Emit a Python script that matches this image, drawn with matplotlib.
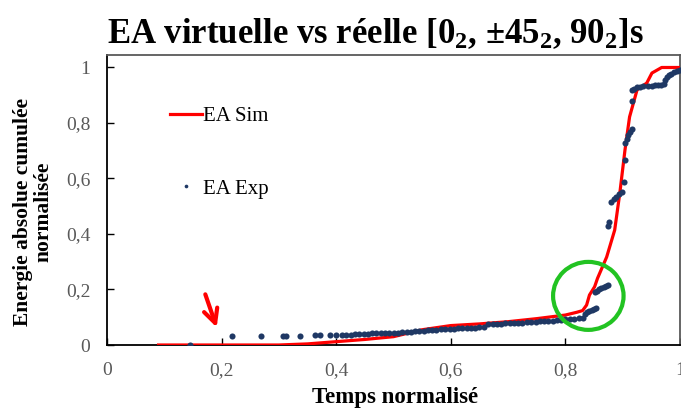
#!/usr/bin/env python3
"""
EA virtuelle vs reelle, stratifie [0_2, +-45_2, 90_2]s
"""

import matplotlib
matplotlib.use('Agg')
import matplotlib.pyplot as plt
from matplotlib.patches import Ellipse
from matplotlib.ticker import FuncFormatter

plt.rcParams['font.family'] = ['Liberation Serif', 'DejaVu Serif']
plt.rcParams['mathtext.fontset'] = 'custom'
plt.rcParams['mathtext.rm'] = 'Liberation Serif:bold'
plt.rcParams['mathtext.it'] = 'Liberation Serif:bold'
plt.rcParams['mathtext.bf'] = 'Liberation Serif:bold'

# courbe simulee (EA Sim)
sim_t = [0.09, 0.30, 0.35, 0.40, 0.45, 0.50, 0.55, 0.60, 0.65, 0.70, 0.75,
         0.80, 0.82, 0.83, 0.837, 0.842, 0.851, 0.856, 0.872, 0.886, 0.895,
         0.904, 0.912, 0.925, 0.942, 0.951, 0.968, 1.0]
sim_ea = [0.0, 0.0, 0.004, 0.012, 0.02, 0.03, 0.055, 0.07, 0.076, 0.084, 0.095,
          0.108, 0.118, 0.124, 0.144, 0.18, 0.21, 0.24, 0.317, 0.414, 0.548,
          0.703, 0.822, 0.919, 0.944, 0.98, 1.0, 1.0]

# points experimentaux (EA Exp)
exp_t = [0.144, 0.218, 0.268, 0.307, 0.312, 0.337, 0.363, 0.372, 0.390, 0.400,
         0.410, 0.417, 0.425, 0.433,
         0.440, 0.448, 0.455, 0.463, 0.470, 0.478, 0.485, 0.493, 0.500, 0.508,
         0.515, 0.523, 0.530, 0.538, 0.545, 0.553, 0.560, 0.568, 0.575, 0.583,
         0.590, 0.598, 0.605, 0.613, 0.620, 0.628, 0.635, 0.643, 0.650, 0.658,
         0.665, 0.673, 0.680, 0.688, 0.695, 0.703, 0.710, 0.718, 0.725, 0.733,
         0.740, 0.748, 0.755, 0.763, 0.770, 0.778, 0.785, 0.793, 0.800, 0.808,
         0.815, 0.823, 0.830,
         0.834, 0.838, 0.842, 0.846, 0.850, 0.854,
         0.851, 0.855, 0.859, 0.863, 0.867, 0.871, 0.875,
         0.875, 0.876, 0.880, 0.884, 0.888, 0.893, 0.898, 0.902, 0.904, 0.904,
         0.907, 0.910, 0.913, 0.916, 0.916, 0.916, 0.920, 0.925, 0.930, 0.935,
         0.945, 0.951, 0.956, 0.961, 0.966, 0.972, 0.974, 0.977, 0.980, 0.985,
         0.990, 0.995, 1.000]
exp_ea = [0.0, 0.034, 0.034, 0.034, 0.034, 0.034, 0.035, 0.035, 0.035, 0.036,
          0.036, 0.036, 0.037, 0.038,
          0.040, 0.041, 0.041, 0.042, 0.042, 0.043, 0.043, 0.044, 0.044, 0.045,
          0.046, 0.047, 0.048, 0.049, 0.050, 0.051, 0.053, 0.054, 0.055, 0.056,
          0.057, 0.058, 0.059, 0.060, 0.061, 0.062, 0.062, 0.063, 0.064, 0.066,
          0.074, 0.075, 0.076, 0.077, 0.078, 0.079, 0.080, 0.080, 0.081, 0.082,
          0.083, 0.084, 0.085, 0.086, 0.087, 0.088, 0.089, 0.091, 0.092, 0.093,
          0.094, 0.096, 0.097,
          0.112, 0.118, 0.122, 0.126, 0.130, 0.132,
          0.190, 0.195, 0.200, 0.205, 0.208, 0.212, 0.216,
          0.430, 0.445, 0.515, 0.525, 0.535, 0.543, 0.550, 0.587, 0.667, 0.728,
          0.742, 0.755, 0.768, 0.780, 0.879, 0.919, 0.924, 0.929, 0.931, 0.933,
          0.933, 0.934, 0.936, 0.937, 0.938, 0.940, 0.955, 0.965, 0.973, 0.978,
          0.982, 0.986, 0.990]

ticks = [0, 0.2, 0.4, 0.6, 0.8, 1.0]
red = '#ff0000'
navy = '#1f3864'
grey = '#595959'


def virgule(v, pos):
    return f'{v:g}'.replace('.', ',')


def plot_ea():
    fig = plt.figure(figsize=(6.81, 4.12), dpi=100)
    ax = fig.add_axes([107/681, 67/412, 573/681, 290/412])

    ax.plot(sim_t, sim_ea, color=red, lw=2.3, label='EA Sim', zorder=3)
    ax.plot(exp_t, exp_ea, ls='none', marker='o', ms=4.4, mew=0,
            color=navy, label='EA Exp', zorder=4)

    # zone de transition entouree
    ax.add_patch(Ellipse((0.840, 0.177), 0.123, 0.245, fill=False,
                         ec='#22c322', lw=3, zorder=5))
    # fleche de debut d'endommagement
    ax.annotate('', xy=(0.193, 0.054), xytext=(0.170, 0.192),
                arrowprops=dict(arrowstyle='->,head_length=1.0,head_width=0.5',
                                color=red, lw=3))

    ax.set_xlim(0, 1.0)
    ax.set_ylim(0, 1.045)
    ax.set_xticks(ticks)
    ax.set_yticks(ticks)
    ax.xaxis.set_major_formatter(FuncFormatter(virgule))
    ax.yaxis.set_major_formatter(FuncFormatter(virgule))
    ax.tick_params(direction='in', length=5, width=1, pad=12,
                   labelsize=14, labelcolor=grey)
    ax.tick_params(top=False, right=False)
    for side in ['left', 'bottom']:
        ax.spines[side].set_color('black')
        ax.spines[side].set_linewidth(1.3)
    for side in ['top', 'right']:
        ax.spines[side].set_color(grey)
        ax.spines[side].set_linewidth(1.3)

    ax.legend(loc='upper left', bbox_to_anchor=(160/681, 1 - 96/412),
              bbox_transform=fig.transFigure, frameon=False,
              fontsize=15, handlelength=1.5, handletextpad=0.05,
              labelspacing=2.55, borderpad=0, markerscale=0.6)

    fig.text(375/681, 1 - 34/412, r'EA virtuelle vs réelle [0$_2$, ±45$_2$, 90$_2$]s',
             ha='center', va='center', fontsize=25, fontweight='bold')
    fig.text(395/681, 1 - 398/412, 'Temps normalisé', ha='center', va='center',
             fontsize=16.5, fontweight='bold')
    fig.text(33/681, 1 - 212/412, 'Energie absolue cumulée\nnormalisée',
             ha='center', va='center', rotation=90, fontsize=15.5,
             fontweight='bold', linespacing=1.05)

    fig.savefig('out.png', dpi=100)
    plt.close('all')


plot_ea()
